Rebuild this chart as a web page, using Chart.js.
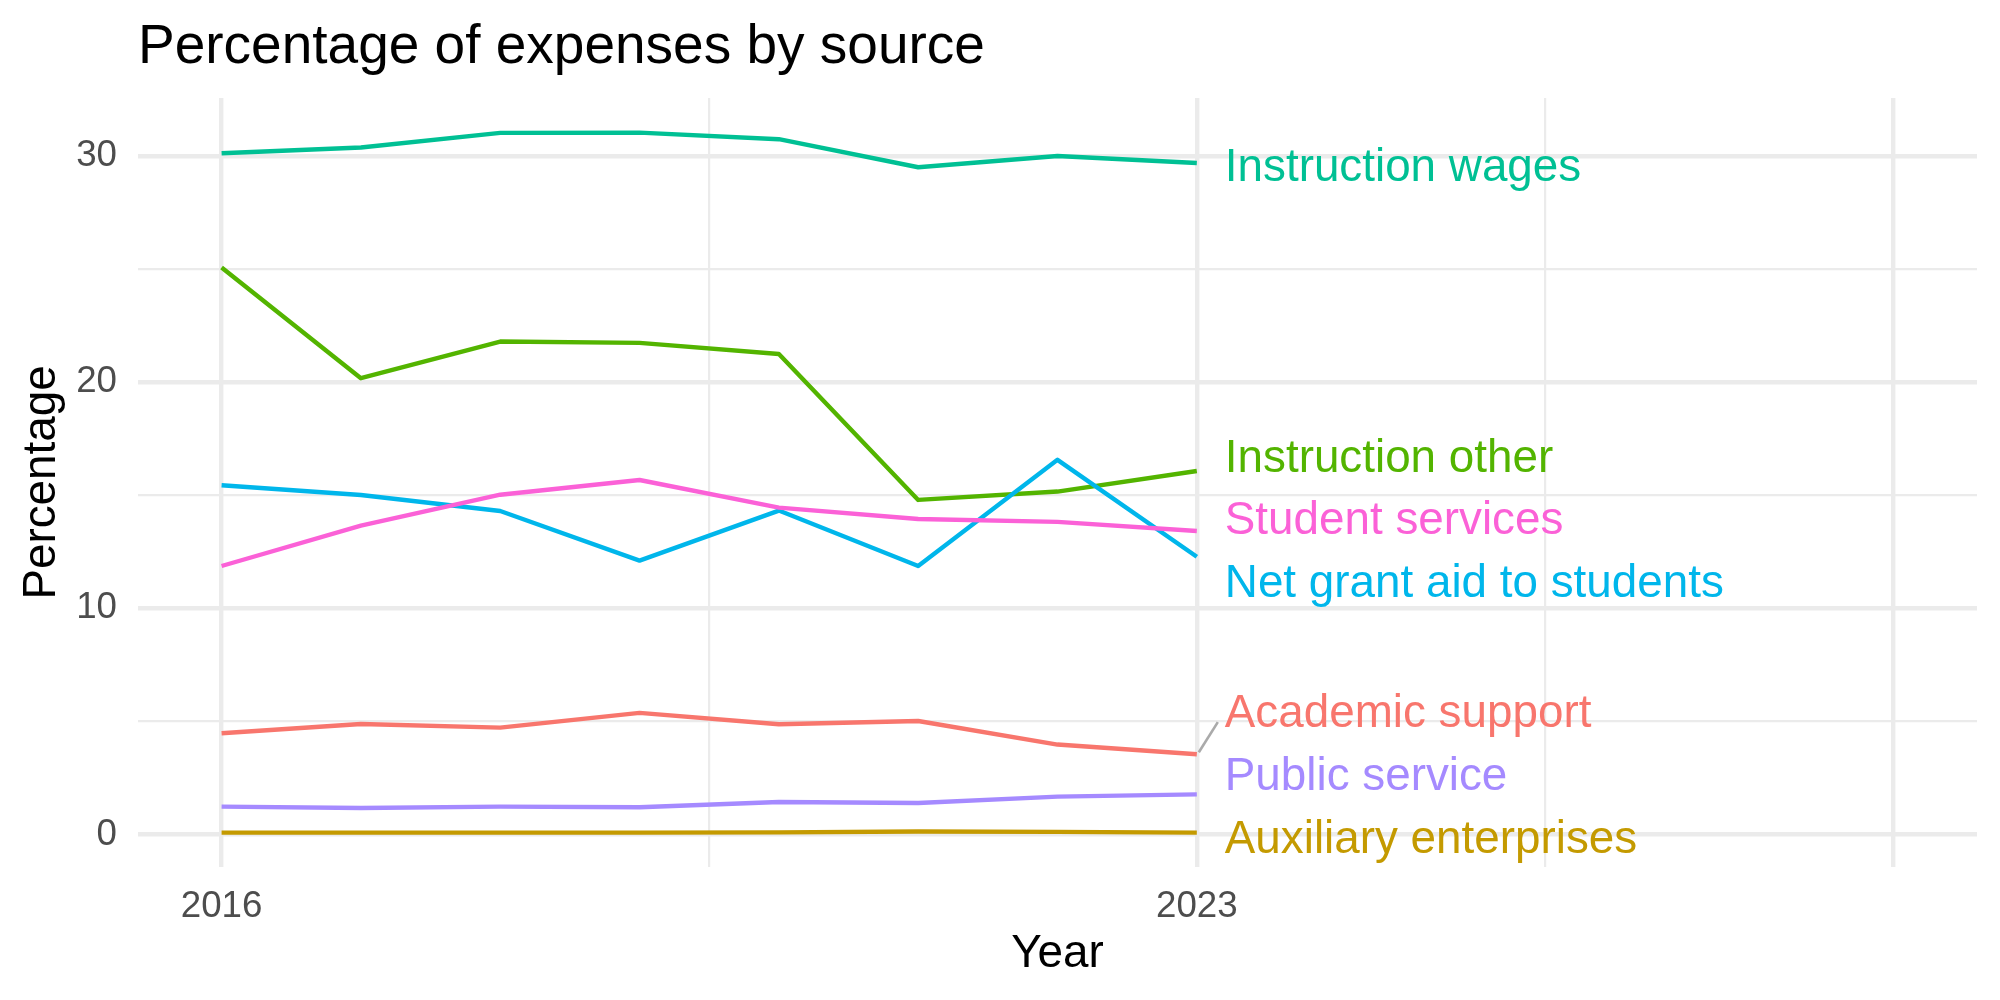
<!DOCTYPE html>
<html>
<head>
<meta charset="utf-8">
<script src="https://cdn.jsdelivr.net/npm/chart.js@4"></script>
<style>
  html, body { margin: 0; padding: 0; background: #fff; }
  #wrap { width: 2000px; height: 1000px; }
</style>
</head>
<body>
<div id="wrap"><canvas id="chart" width="2000" height="1000"></canvas></div>
<script>
const years = [2016, 2017, 2018, 2019, 2020, 2021, 2022, 2023];
const academicSupport = [4.48, 4.89, 4.73, 5.38, 4.88, 5.02, 3.98, 3.55];
const auxiliaryEnterprises = [0.09, 0.09, 0.09, 0.09, 0.10, 0.14, 0.12, 0.09];
const instructionOther = [25.06, 20.17, 21.79, 21.73, 21.24, 14.79, 15.16, 16.07];
const instructionWages = [30.11, 30.36, 31.01, 31.02, 30.73, 29.49, 29.99, 29.68];
const netGrantAid = [15.44, 15.01, 14.30, 12.11, 14.32, 11.87, 16.56, 12.28];
const publicService = [1.24, 1.18, 1.24, 1.21, 1.44, 1.40, 1.68, 1.78];
const studentServices = [11.87, 13.65, 15.02, 15.67, 14.45, 13.95, 13.82, 13.42];

const seriesNames = ['Academic support', 'Auxiliary enterprises', 'Instruction other', 'Instruction wages',
  'Net grant aid to students', 'Public service', 'Student services'];
const seriesValues = [academicSupport, auxiliaryEnterprises, instructionOther, instructionWages,
  netGrantAid, publicService, studentServices];
const seriesColors = ['#F8766D', '#C49A00', '#53B400', '#00C094', '#00B6EB', '#A58AFF', '#FB61D7'];
// where the repelled end labels sit (in data units)
const labelAt = [5.46, -0.09, 16.77, 29.60, 11.23, 2.69, 14.02];

const xBreaks = [2016, 2019.5, 2023, 2025.5, 2028];
const xLabels = ['2016', '', '2023', '', ''];
const xMajor = [2016, 2023, 2028];
const yBreaks = [0, 5, 10, 15, 20, 25, 30];
const yLabels = ['0', '', '10', '', '20', '', '30'];

const FONT = "'Liberation Sans', Arial, Helvetica, sans-serif";
const GRID = '#EBEBEB';

// ggplot draws later groups on top; chart.js draws index 0 last
const datasets = seriesNames.map((name, i) => ({
  label: name,
  data: years.map((y, j) => ({ x: y, y: seriesValues[i][j] })),
  borderColor: seriesColors[i],
  backgroundColor: seriesColors[i],
  borderWidth: 4.4,
  pointRadius: 0,
  tension: 0,
  borderJoinStyle: 'round',
  borderCapStyle: 'butt',
  fill: false,
  order: seriesNames.length - i
}));

const annotate = {
  id: 'annotate',
  afterDatasetsDraw(chart) {
    const { ctx, scales: { x, y } } = chart;
    ctx.save();
    // title
    ctx.fillStyle = '#000';
    ctx.font = `55px ${FONT}`;
    ctx.textAlign = 'left';
    ctx.textBaseline = 'alphabetic';
    ctx.fillText('Percentage of expenses by source', 138, 63);

    // end labels (ggrepel-ish), segment only when pushed far away
    const fs = 45.8;
    ctx.font = `${fs}px ${FONT}`;
    const lastX = x.getPixelForValue(years[years.length - 1]);
    const tx = lastX + 28;
    seriesNames.forEach((name, i) => {
      const cy = y.getPixelForValue(labelAt[i]);
      const py = y.getPixelForValue(seriesValues[i][years.length - 1]);
      if (Math.abs(cy - py) > 30) {
        ctx.strokeStyle = '#AAAAAA';
        ctx.lineWidth = 2.6;
        ctx.lineCap = 'butt';
        ctx.beginPath();
        ctx.moveTo(lastX + 2, py - 2);
        ctx.lineTo(tx - 7, cy + 11);
        ctx.stroke();
      }
      ctx.fillStyle = seriesColors[i];
      ctx.fillText(name, tx, cy + 0.358 * fs);
    });
    ctx.restore();
  }
};

new Chart(document.getElementById('chart'), {
  type: 'line',
  data: { datasets },
  plugins: [annotate],
  options: {
    responsive: false,
    devicePixelRatio: 1,
    animation: false,
    layout: { padding: { left: 0, right: 23, top: 98, bottom: 0 } },
    plugins: { legend: { display: false }, tooltip: { enabled: false }, title: { display: false } },
    scales: {
      x: {
        type: 'linear',
        min: 2015.4,
        max: 2028.6,
        afterBuildTicks: s => { s.ticks = xBreaks.map(v => ({ value: v })); },
        afterFit: s => { s.height = 133; },
        ticks: {
          autoSkip: false,
          maxRotation: 0,
          padding: 18,
          color: '#4D4D4D',
          font: { family: FONT, size: 36.7 },
          callback: (v, i) => xLabels[i]
        },
        grid: {
          color: GRID,
          drawTicks: false,
          lineWidth: c => (c.tick && xMajor.includes(c.tick.value)) ? 4.4 : 2.2
        },
        border: { display: false },
        title: {
          display: true,
          text: 'Year',
          color: '#000',
          font: { family: FONT, size: 45.8, lineHeight: 1 },
          padding: { top: 0, bottom: 23 }
        }
      },
      y: {
        type: 'linear',
        min: -1.43,
        max: 32.55,
        afterBuildTicks: s => { s.ticks = yBreaks.map(v => ({ value: v })); },
        afterFit: s => { s.width = 138; },
        ticks: {
          autoSkip: false,
          padding: 21,
          color: '#4D4D4D',
          font: { family: FONT, size: 36.7 },
          callback: (v, i) => yLabels[i]
        },
        grid: {
          color: GRID,
          drawTicks: false,
          lineWidth: c => (c.tick && c.tick.value % 10 === 0) ? 4.4 : 2.2
        },
        border: { display: false },
        title: {
          display: true,
          text: 'Percentage',
          color: '#000',
          font: { family: FONT, size: 45.8, lineHeight: 1 },
          padding: { top: 19, bottom: 0 }
        }
      }
    }
  }
});
</script>
</body>
</html>
